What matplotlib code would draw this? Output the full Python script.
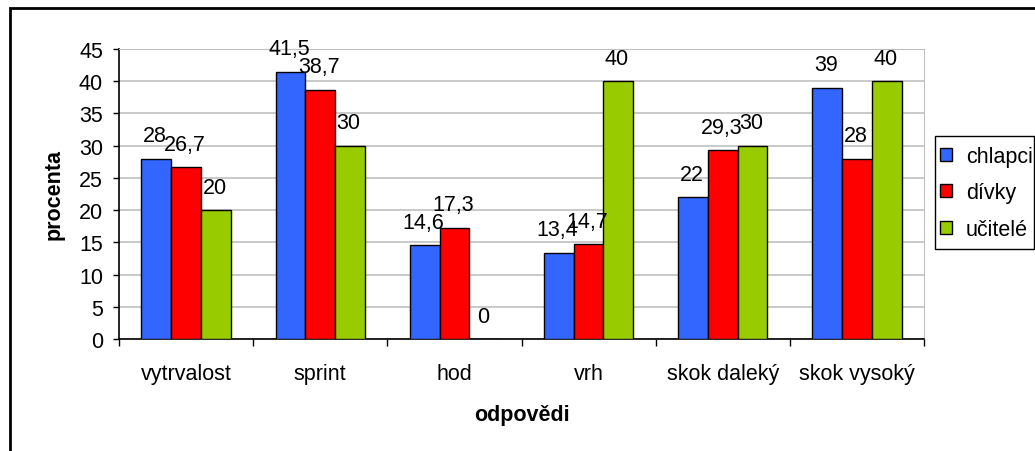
import matplotlib.pyplot as plt
import numpy as np
from matplotlib.patches import Rectangle

plt.rcParams['font.family'] = ['Liberation Sans', 'DejaVu Sans']

kategorie = ['vytrvalost', 'sprint', 'hod', 'vrh', 'skok daleký', 'skok vysoký']
chlapci = [28, 41.5, 14.6, 13.4, 22, 39]
divky = [26.7, 38.7, 17.3, 14.7, 29.3, 28]
ucitele = [20, 30, 0, 40, 30, 40]
serie = ['chlapci', 'dívky', 'učitelé']
barvy = ['#3366FF', '#FF0000', '#99CC00']

fs = 15.5
W, H = 1035, 452

fig = plt.figure(figsize=(W / 100, H / 100), dpi=100)
ax = fig.add_axes([119 / W, 1 - 340 / H, (924 - 119) / W, 290 / H])

# vnější rámeček grafu
fig.patches.append(Rectangle((10 / W, -0.1), 1.2, 1 - 9 / H + 0.1,
                             transform=fig.transFigure, fill=False,
                             edgecolor='black', linewidth=2, zorder=0))

x = np.arange(len(kategorie))
w = 0.222
for i, (hodnoty, jmeno, barva) in enumerate(zip([chlapci, divky, ucitele], serie, barvy)):
    pozice = x + (i - 1) * w
    ax.bar(pozice, hodnoty, width=w, color=barva, edgecolor='black',
           linewidth=1, label=jmeno, zorder=3)
    for px, v in zip(pozice, hodnoty):
        txt = ('%g' % v).replace('.', ',')
        ax.annotate(txt, (px, v), xytext=(-1, 12.5), textcoords='offset points',
                    ha='center', va='baseline', fontsize=fs, zorder=4)

ax.set_xlim(-0.5, len(kategorie) - 0.5)
ax.set_ylim(0, 45)
ax.set_yticks(range(0, 46, 5))
ax.yaxis.grid(True, color='#C0C0C0', linewidth=1.2, zorder=0)
ax.set_axisbelow(True)

ax.set_xticks(x)
ax.set_xticklabels(kategorie, fontsize=fs)
ax.set_xticks(np.arange(-0.5, len(kategorie)), minor=True)
ax.tick_params(axis='x', which='major', length=0, pad=17)
ax.tick_params(axis='x', which='minor', length=5, width=1, direction='out')
ax.tick_params(axis='y', length=4.5, width=1, direction='out', pad=7, labelsize=fs)

ax.spines['top'].set_color('#C0C0C0')
ax.spines['right'].set_color('#C0C0C0')
ax.spines['left'].set_linewidth(1.2)
ax.spines['bottom'].set_linewidth(1.2)

ax.set_ylabel('procenta', fontsize=fs, fontweight='bold', labelpad=10)
ax.set_xlabel('odpovědi', fontsize=fs, fontweight='bold', labelpad=15)

# legenda bez vlastního rámu, rám kreslím zvlášť
leg = fig.legend(loc='upper left', bbox_to_anchor=(940 / W, 1 - 147 / H),
                 fontsize=fs, frameon=False,
                 handlelength=0.55, handleheight=0.55, handletextpad=0.65,
                 labelspacing=0.72, borderpad=0, borderaxespad=0)
fig.patches.append(Rectangle((935 / W, 1 - 250 / H), 99 / W, 113 / H,
                             transform=fig.transFigure, fill=False,
                             edgecolor='black', linewidth=1))

plt.savefig('out.png', dpi=100)
